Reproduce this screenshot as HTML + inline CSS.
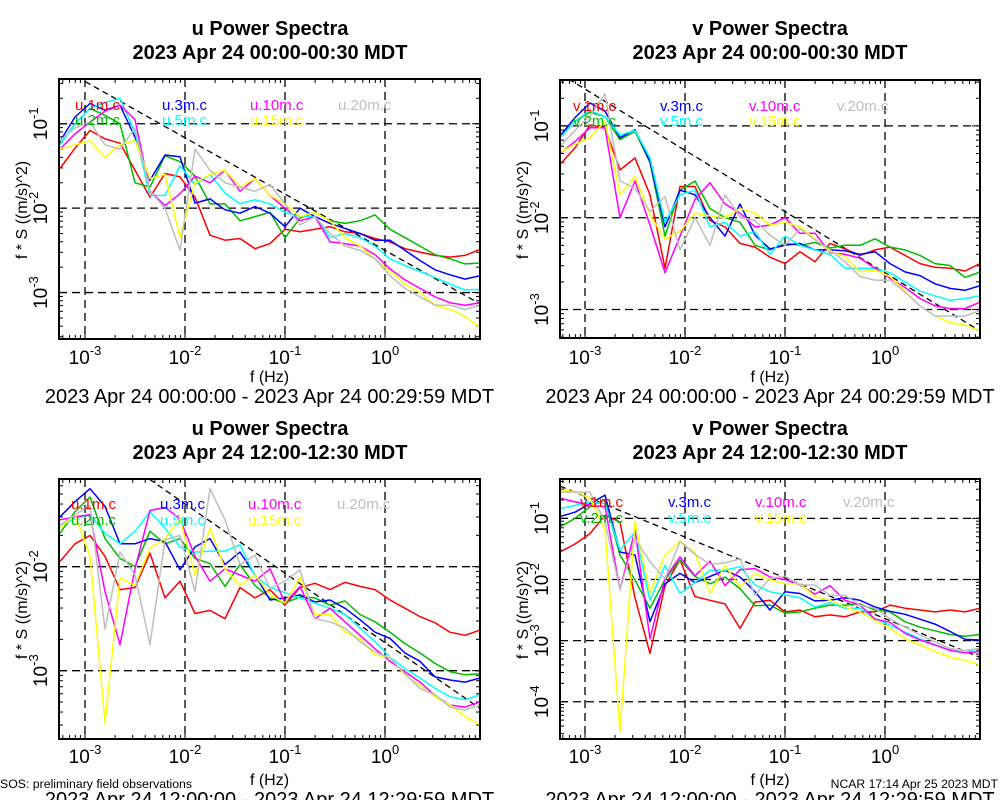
<!DOCTYPE html>
<html><head><meta charset="utf-8"><title>Power Spectra</title>
<style>
html,body{margin:0;padding:0;background:#fff;}
svg{display:block;font-family:"Liberation Sans",Arial,sans-serif;}
</style></head>
<body>
<svg id="root" width="1000" height="800" viewBox="0 0 1000 800" xmlns="http://www.w3.org/2000/svg">
<text x="0" y="788" font-size="12.3">SOS: preliminary field observations</text>
<text x="998" y="788" font-size="12.2" text-anchor="end">NCAR 17:14 Apr 25 2023 MDT</text>
</svg>
<script>
// ---- shared data ----
const freqExp = [-3.25,-3.1,-2.95,-2.8,-2.65,-2.5,-2.35,-2.2,-2.05,-1.9,-1.75,-1.6,-1.45,-1.3,-1.15,-1.0,-0.85,-0.7,-0.55,-0.4,-0.25,-0.1,0.05,0.2,0.35,0.5,0.65,0.8,0.95];
const seriesColors = ["#ff0000","#00bb00","#0000ff","#00ffff","#ff00ff","#ffff00","#bebebe"];
const heightTags = ["1m","2m","3m","5m","10m","15m","20m"];

// panel 1: u 00:00
const uAmHeights1m = [-1.53,-1.29,-1.08,-1.18,-1.23,-1.55,-1.87,-1.59,-1.63,-1.87,-2.32,-2.38,-2.36,-2.48,-2.42,-2.25,-2.28,-2.25,-2.22,-2.28,-2.30,-2.36,-2.40,-2.48,-2.52,-2.56,-2.58,-2.56,-2.49];
const uAm2m = [-1.25,-1.0,-0.82,-0.9,-1.0,-1.7,-1.75,-1.38,-1.45,-1.62,-1.95,-1.95,-2.15,-2.1,-2.05,-2.35,-2.12,-2.05,-2.15,-2.18,-2.15,-2.08,-2.25,-2.35,-2.45,-2.55,-2.6,-2.66,-2.65];
const uAm3m = [-1.21,-0.92,-0.76,-0.84,-0.78,-1.16,-1.67,-1.37,-1.39,-1.94,-1.89,-2.02,-2.06,-1.98,-2.06,-2.22,-2.0,-2.10,-2.18,-2.24,-2.30,-2.38,-2.38,-2.50,-2.62,-2.73,-2.79,-2.84,-2.80];
const uAm5m = [-1.25,-1.0,-0.82,-0.75,-0.7,-1.1,-1.85,-1.85,-1.5,-1.72,-1.6,-1.82,-1.95,-1.9,-1.95,-2.05,-2.1,-2.1,-2.35,-2.3,-2.35,-2.45,-2.6,-2.68,-2.75,-2.82,-2.9,-2.97,-2.96];
const uAm10m = [-1.3,-1.12,-0.98,-0.85,-0.78,-0.95,-1.8,-1.97,-1.83,-1.62,-1.7,-1.55,-1.8,-1.65,-1.85,-2.0,-2.15,-2.1,-2.4,-2.42,-2.45,-2.55,-2.72,-2.85,-2.95,-3.05,-3.12,-3.15,-3.12];
const uAm15m = [-1.3,-1.25,-1.2,-1.4,-1.25,-1.2,-1.65,-1.6,-2.35,-1.7,-1.6,-1.55,-1.75,-1.65,-1.85,-1.95,-2.1,-2.05,-2.15,-2.35,-2.45,-2.6,-2.75,-2.9,-3.0,-3.15,-3.2,-3.28,-3.42];
const uAm20m = [-1.2,-1.05,-0.98,-1.25,-1.3,-1.05,-1.8,-2.0,-2.5,-1.3,-1.55,-1.7,-1.75,-1.8,-1.72,-1.95,-2.2,-2.1,-2.3,-2.45,-2.5,-2.6,-2.8,-2.95,-3.05,-3.15,-3.15,-3.2,-3.15];

// panel 2: v 00:00
const vAm1m = [-1.42,-1.24,-0.99,-1.02,-1.48,-1.35,-1.75,-2.55,-1.66,-1.66,-2.03,-2.1,-2.28,-2.32,-2.43,-2.5,-2.37,-2.48,-2.28,-2.34,-2.41,-2.35,-2.32,-2.41,-2.5,-2.54,-2.55,-2.58,-2.5];
const vAm2m = [-1.12,-0.95,-0.85,-0.9,-1.15,-1.06,-1.4,-2.2,-1.7,-1.6,-1.9,-2.0,-2.05,-2.3,-2.35,-2.28,-2.3,-2.27,-2.33,-2.3,-2.3,-2.23,-2.32,-2.35,-2.41,-2.5,-2.52,-2.65,-2.59];
const vAm3m = [-1.11,-0.91,-0.75,-0.84,-1.13,-1.04,-1.39,-2.1,-1.7,-1.75,-2.0,-2.2,-1.85,-2.19,-2.34,-2.3,-2.28,-2.35,-2.35,-2.36,-2.4,-2.37,-2.5,-2.59,-2.63,-2.72,-2.77,-2.79,-2.74];
const vAm5m = [-1.13,-0.95,-0.83,-0.9,-1.1,-1.05,-1.35,-2.05,-1.75,-1.7,-2.1,-2.05,-2.2,-2.15,-2.4,-2.2,-2.3,-2.35,-2.4,-2.55,-2.55,-2.55,-2.6,-2.7,-2.8,-2.85,-2.9,-2.88,-2.85];
const vAm10m = [-1.3,-1.17,-1.02,-1.02,-2.0,-1.6,-2.08,-2.6,-2.2,-1.8,-1.62,-1.85,-1.95,-2.1,-2.08,-2.0,-2.17,-2.17,-2.38,-2.4,-2.44,-2.55,-2.66,-2.76,-2.88,-2.96,-2.99,-2.99,-2.92];
const vAm15m = [-1.29,-1.2,-1.13,-0.95,-1.75,-1.55,-1.97,-2.23,-2.15,-1.95,-1.98,-2.0,-1.9,-1.95,-2.08,-2.05,-2.1,-2.23,-2.37,-2.42,-2.59,-2.57,-2.64,-2.8,-2.96,-3.07,-3.14,-3.17,-3.23];
const vAm20m = [-1.22,-1.05,-0.89,-0.65,-1.6,-1.68,-1.93,-1.77,-2.35,-2.0,-2.3,-1.75,-1.99,-2.03,-2.19,-2.3,-2.12,-2.24,-2.35,-2.48,-2.64,-2.68,-2.68,-2.81,-2.96,-3.07,-3.07,-3.07,-3.01];

// panel 3: u 12:00
const uPm1m = [-1.95,-1.78,-1.7,-1.9,-2.22,-2.2,-1.87,-2.3,-2.14,-2.45,-2.42,-2.5,-2.2,-2.3,-2.22,-2.37,-2.2,-2.16,-2.22,-2.15,-2.19,-2.22,-2.32,-2.4,-2.48,-2.54,-2.63,-2.66,-2.61];
const uPm2m = [-1.68,-1.47,-1.33,-1.73,-1.92,-2.0,-1.66,-1.78,-1.73,-1.92,-1.97,-2.19,-1.98,-2.18,-2.3,-2.35,-2.29,-2.3,-2.37,-2.33,-2.46,-2.53,-2.63,-2.74,-2.83,-2.93,-3.01,-3.04,-3.03];
const uPm3m = [-1.52,-1.375,-1.25,-1.42,-1.78,-1.78,-1.73,-1.76,-2.03,-1.81,-1.73,-1.98,-1.86,-2.08,-2.32,-2.3,-2.27,-2.34,-2.32,-2.4,-2.51,-2.63,-2.69,-2.83,-2.91,-3.06,-3.09,-3.11,-3.07];
const uPm5m = [-1.6,-1.54,-1.5,-1.68,-1.78,-1.66,-1.47,-1.63,-1.81,-1.86,-1.85,-1.85,-1.79,-2.09,-2.2,-2.25,-2.3,-2.35,-2.4,-2.46,-2.59,-2.72,-2.87,-2.98,-3.07,-3.17,-3.25,-3.28,-3.23];
const uPm10m = [-1.55,-1.52,-1.5,-2.24,-2.75,-2.02,-1.46,-1.43,-1.54,-1.9,-2.14,-2.02,-2.08,-2.14,-2.02,-2.35,-2.19,-2.5,-2.4,-2.53,-2.66,-2.79,-2.91,-3.01,-3.11,-3.24,-3.33,-3.35,-3.3];
const uPm15m = [-1.63,-1.5,-1.9,-3.5,-2.11,-2.18,-1.82,-1.73,-1.54,-2.08,-1.63,-2.02,-2.18,-2.08,-2.27,-2.35,-2.1,-2.46,-2.46,-2.63,-2.69,-2.85,-2.87,-3.04,-3.14,-3.25,-3.33,-3.44,-3.52];
const uPm20m = [-1.6,-1.5,-1.41,-2.6,-1.86,-2.08,-2.75,-1.74,-1.7,-2.24,-1.25,-1.55,-1.98,-1.89,-2.21,-2.14,-2.03,-2.5,-2.53,-2.59,-2.72,-2.82,-2.88,-3.03,-3.17,-3.23,-3.35,-3.38,-3.33];

// panel 4: v 12:00
const vPm1m = [-1.55,-1.42,-1.25,-0.95,-1.06,-2.3,-3.21,-2.1,-1.68,-2.28,-2.34,-2.4,-2.8,-2.37,-2.34,-2.53,-2.5,-2.61,-2.58,-2.61,-2.53,-2.53,-2.42,-2.47,-2.5,-2.53,-2.5,-2.53,-2.47];
const vPm2m = [-1.14,-1.0,-0.81,-0.7,-1.6,-2.01,-2.47,-2.0,-1.68,-1.95,-2.07,-1.96,-2.15,-2.43,-2.42,-2.55,-2.53,-2.47,-2.42,-2.42,-2.4,-2.5,-2.53,-2.69,-2.78,-2.84,-2.9,-2.93,-2.9];
const vPm3m = [-0.97,-0.9,-0.76,-0.62,-1.55,-1.6,-2.69,-2.07,-1.9,-2.05,-1.95,-1.85,-1.96,-2.2,-2.5,-2.2,-2.23,-2.35,-2.34,-2.3,-2.34,-2.45,-2.52,-2.57,-2.65,-2.73,-2.85,-2.98,-2.99];
const vPm5m = [-0.84,-0.79,-0.73,-0.76,-1.52,-1.22,-2.34,-1.77,-2.23,-2.05,-1.85,-1.85,-1.79,-2.09,-2.2,-2.25,-2.3,-2.45,-2.38,-2.47,-2.47,-2.64,-2.75,-2.86,-2.97,-3.07,-3.15,-3.2,-3.12];
const vPm10m = [-0.67,-0.73,-0.78,-0.81,-2.17,-1.19,-2.97,-1.98,-1.63,-1.94,-1.7,-2.1,-1.84,-1.82,-1.96,-2.0,-2.09,-2.24,-2.1,-2.34,-2.42,-2.65,-2.7,-2.88,-2.99,-3.07,-3.16,-3.2,-3.18];
const vPm15m = [-0.54,-0.56,-0.67,-1.19,-4.49,-1.05,-2.23,-1.6,-1.37,-1.57,-2.23,-1.77,-2.12,-1.9,-2.0,-2.07,-2.07,-2.28,-2.34,-2.45,-2.53,-2.67,-2.8,-2.97,-3.07,-3.18,-3.27,-3.32,-3.4];
const vPm20m = [-0.57,-0.57,-0.57,-1.05,-2.17,-1.33,-1.71,-1.99,-1.38,-1.59,-1.75,-1.73,-1.66,-2.26,-1.98,-1.95,-2.09,-2.09,-2.26,-2.26,-2.42,-2.47,-2.64,-2.78,-2.91,-3.02,-3.13,-3.16,-3.13];

// reference line  log10(fS) = refAt1Hz + refSlope*log10(f)
const refSlope = [-0.667,-0.667,-0.667,-0.667];
const refAt1Hz = [-2.5,-2.6,-2.73,-2.64];
const xTickExp = [-3,-2,-1,0];
const yTickExpTop = [[-1,-2,-3],[-1,-2,-3]];
const yTickExpBottom = [[-2,-3],[-1,-2,-3,-4]];

const SVGNS = "http://www.w3.org/2000/svg";
const root = document.getElementById("root");
function mk(tag, attrs, parent){
  const e = document.createElementNS(SVGNS, tag);
  for (const k in attrs) e.setAttribute(k, attrs[k]);
  (parent||root).appendChild(e);
  return e;
}

const panels = [
 {comp:"u", title2:"2023 Apr 24 00:00-00:30 MDT", sub:"2023 Apr 24 00:00:00 - 2023 Apr 24 00:29:59 MDT",
  x0:59,x1:480,y0:79,y1:339,xmin:-3.26,xmax:0.95,ymax:-0.47,ymin:-3.55,
  series:[uAmHeights1m,uAm2m,uAm3m,uAm5m,uAm10m,uAm15m,uAm20m], yt:yTickExpTop[0], cx:270, ty:35, legX:[75,162,250,338], legY:[110,125], ylab:210, xlab:382, xtl:364, subY:403},
 {comp:"v", title2:"2023 Apr 24 00:00-00:30 MDT", sub:"2023 Apr 24 00:00:00 - 2023 Apr 24 00:29:59 MDT",
  x0:560,x1:980,y0:80,y1:338,xmin:-3.25,xmax:0.95,ymax:-0.5,ymin:-3.31,
  series:[vAm1m,vAm2m,vAm3m,vAm5m,vAm10m,vAm15m,vAm20m], yt:yTickExpTop[1], cx:770, ty:35, legX:[573,660,749,837], legY:[111,126], ylab:210, xlab:382, xtl:364, subY:403},
 {comp:"u", title2:"2023 Apr 24 12:00-12:30 MDT", sub:"2023 Apr 24 12:00:00 - 2023 Apr 24 12:29:59 MDT",
  x0:59,x1:480,y0:479,y1:739,xmin:-3.26,xmax:0.95,ymax:-1.157,ymin:-3.657,
  series:[uPm1m,uPm2m,uPm3m,uPm5m,uPm10m,uPm15m,uPm20m], yt:yTickExpBottom[0], cx:270, ty:435, legX:[71,160,248,337], legY:[509,525], ylab:610, xlab:785, xtl:763, subY:806},
 {comp:"v", title2:"2023 Apr 24 12:00-12:30 MDT", sub:"2023 Apr 24 12:00:00 - 2023 Apr 24 12:29:59 MDT",
  x0:560,x1:980,y0:479,y1:739,xmin:-3.25,xmax:0.95,ymax:-0.356,ymin:-4.61,
  series:[vPm1m,vPm2m,vPm3m,vPm5m,vPm10m,vPm15m,vPm20m], yt:yTickExpBottom[1], cx:770, ty:435, legX:[580,668,755,843], legY:[507,523], ylab:610, xlab:785, xtl:763, subY:806}
];

panels.forEach((p, pi) => {
  const g = mk("g", {});
  
  
  const X = e => p.x0 + (e - p.xmin) / (p.xmax - p.xmin) * (p.x1 - p.x0);
  const Y = e => p.y0 + (p.ymax - e) / (p.ymax - p.ymin) * (p.y1 - p.y0);

  const t1 = mk("text", {x:p.cx, y:p.ty, "font-size":20, "font-weight":"bold", "text-anchor":"middle"}, g);
  t1.textContent = p.comp + " Power Spectra";
  
  
  const t2 = mk("text", {x:p.cx, y:p.ty+24, "font-size":20, "font-weight":"bold", "text-anchor":"middle"}, g);
  t2.textContent = p.title2;
  
  

  const cid = "clip" + pi;
  const cp = mk("clipPath", {id:cid}, g);
  mk("rect", {x:p.x0, y:p.y0, width:p.x1-p.x0, height:p.y1-p.y0}, cp);

  xTickExp.forEach(e => {
    const gl = mk("line", {x1:X(e), x2:X(e), y1:p.y0, y2:p.y1, stroke:"#000", "stroke-width":1.3, "stroke-dasharray":"8,5"}, g);
    
    
  });
  p.yt.forEach(e => {
    const gl = mk("line", {x1:p.x0, x2:p.x1, y1:Y(e), y2:Y(e), stroke:"#000", "stroke-width":1.3, "stroke-dasharray":"8,5"}, g);
    
    
  });

  for (let d = -4; d <= 0; d++) for (let m = 1; m <= 9; m++) {
    const e = d + Math.log10(m);
    if (e > p.xmin && e < p.xmax) {
      const L = m === 1 ? 8 : 4, xx = X(e);
      mk("line", {x1:xx, x2:xx, y1:p.y1, y2:p.y1-L, stroke:"#000", "stroke-width":1}, g);
      mk("line", {x1:xx, x2:xx, y1:p.y0, y2:p.y0+L, stroke:"#000", "stroke-width":1}, g);
    }
  }
  for (let d = -5; d <= 0; d++) for (let m = 1; m <= 9; m++) {
    const e = d + Math.log10(m);
    if (e > p.ymin && e < p.ymax) {
      const L = m === 1 ? 8 : 4, yy = Y(e);
      mk("line", {x1:p.x0, x2:p.x0+L, y1:yy, y2:yy, stroke:"#000", "stroke-width":1}, g);
      mk("line", {x1:p.x1, x2:p.x1-L, y1:yy, y2:yy, stroke:"#000", "stroke-width":1}, g);
    }
  }

  const rl = mk("line", {x1:X(p.xmin), y1:Y(refAt1Hz[pi] + refSlope[pi]*p.xmin), x2:X(p.xmax), y2:Y(refAt1Hz[pi] + refSlope[pi]*p.xmax),
    stroke:"#000", "stroke-width":1.3, "stroke-dasharray":"6,4", "clip-path":"url(#"+cid+")"}, g);
  
  

  p.series.forEach((vals, si) => {
    const pts = vals.map((v, i) => X(freqExp[i]).toFixed(1) + "," + Y(v).toFixed(1)).join(" ");
    const pl = mk("polyline", {points:pts, fill:"none", stroke:seriesColors[si], "stroke-width":1.5, "stroke-linejoin":"round", "clip-path":"url(#"+cid+")"}, g);
    
    
  });

  const order = [[0,0,0],[2,1,0],[4,2,0],[6,3,0],[1,0,1],[3,1,1],[5,2,1]];
  order.forEach(o => {
    const lt = mk("text", {x:p.legX[o[1]], y:p.legY[o[2]], "font-size":15, fill:seriesColors[o[0]]}, g);
    lt.textContent = p.comp + "." + heightTags[o[0]] + ".c";
    
    
  });

  const bx = mk("rect", {x:p.x0, y:p.y0, width:p.x1-p.x0, height:p.y1-p.y0, fill:"none", stroke:"#000", "stroke-width":2}, g);
  
  

  xTickExp.forEach(e => {
    const tl = mk("text", {x:X(e), y:p.xtl, "text-anchor":"middle", "font-size":19}, g);
    const a = mk("tspan", {}, tl); a.textContent = "10";
    const b = mk("tspan", {dy:-9, "font-size":13}, tl); b.textContent = String(e);
    
    
  });
  p.yt.forEach(e => {
    const xx = p.x0 - 12, yy = Y(e);
    const tl = mk("text", {x:xx, y:yy, "text-anchor":"middle", "font-size":19, transform:"rotate(-90 "+xx+" "+yy+")"}, g);
    const a = mk("tspan", {}, tl); a.textContent = "10";
    const b = mk("tspan", {dy:-9, "font-size":13}, tl); b.textContent = String(e);
    
    
  });
  const yx = p.x0 - 32;
  const yl = mk("text", {x:yx, y:p.ylab, "text-anchor":"middle", "font-size":16, transform:"rotate(-90 "+yx+" "+p.ylab+")"}, g);
  yl.textContent = "f * S ((m/s)^2)";
  
  
  const xl = mk("text", {x:(p.x0+p.x1)/2, y:p.xlab, "text-anchor":"middle", "font-size":16}, g);
  xl.textContent = "f (Hz)";
  
  
  const st = mk("text", {x:(p.x0+p.x1)/2, y:p.subY, "text-anchor":"middle", "font-size":20}, g);
  st.textContent = p.sub;
  
  
});
</script>
</body></html>
